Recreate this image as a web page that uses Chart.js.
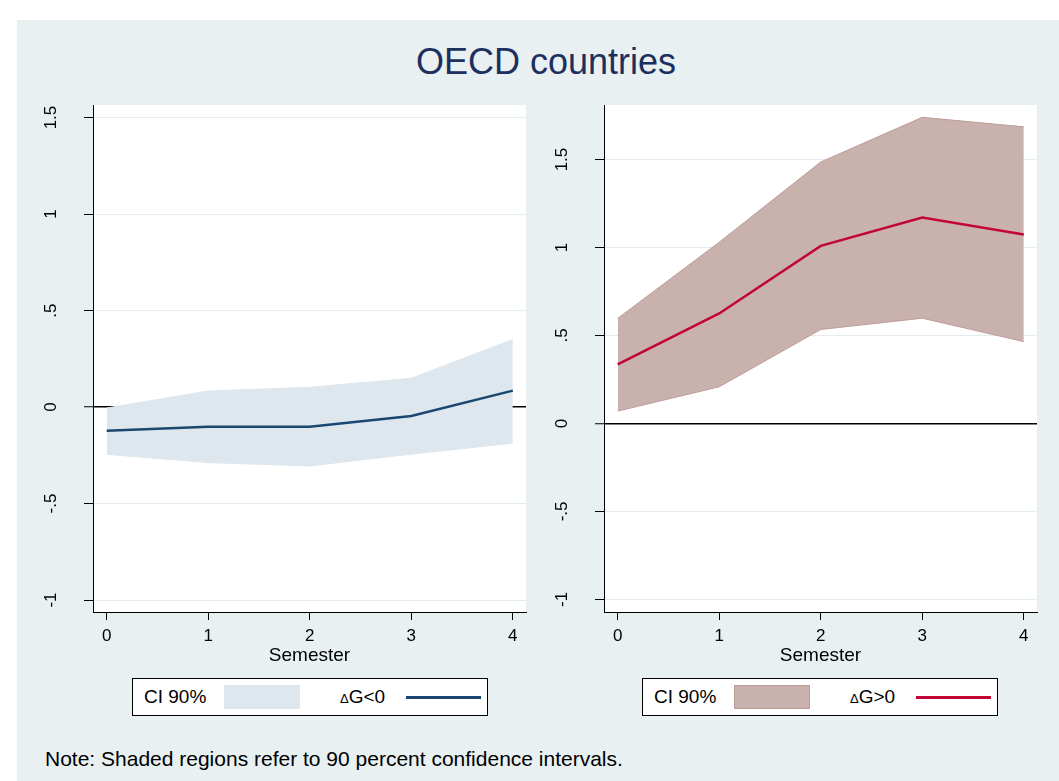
<!DOCTYPE html>
<html>
<head>
<meta charset="utf-8">
<title>OECD countries</title>
<script src="https://cdn.jsdelivr.net/npm/chart.js@4"></script>
<style>
  body { margin: 0; width: 1059px; height: 781px; background: #fff; position: relative; overflow: hidden;
         font-family: "Liberation Sans", Arial, sans-serif; color: #000; }
  #graph { position: absolute; left: 17px; top: 20px; width: 1042px; height: 761px; background: #e8f0f2; }
  #title { position: absolute; left: 0; top: 44px; width: 1092px; text-align: center; font-size: 36px;
           line-height: 36px; color: #1c2f5e; }
  canvas { position: absolute; top: 20px; }
  #leftPanel { left: 17px; }
  #rightPanel { left: 527px; }
  .legend { position: absolute; top: 678px; width: 356px; height: 38px; box-sizing: border-box;
            border: 1px solid #000; background: #fff; font-size: 19px; }
  .legend span { position: absolute; top: 7px; line-height: 22px; white-space: nowrap; }
  .legend .swatch { position: absolute; left: 91px; top: 6px; width: 76px; height: 24px; box-sizing: border-box; }
  .legend .key { position: absolute; left: 273px; top: 17px; width: 75px; height: 2.5px; }
  .delta { font-size: 13px; }
  #note { position: absolute; left: 45px; top: 748px; font-size: 21px; line-height: 21px; white-space: nowrap; }
</style>
</head>
<body>
<div id="graph"></div>
<div id="title">OECD countries</div>
<canvas id="leftPanel" width="523" height="650"></canvas>
<canvas id="rightPanel" width="532" height="650"></canvas>

<div class="legend" style="left:132px">
  <span style="left:11px">CI 90%</span>
  <div class="swatch" style="background:#dde7ed"></div>
  <span style="left:207px"><span class="delta" style="position:static">&Delta;</span>G&lt;0</span>
  <div class="key" style="background:#1a476f"></div>
</div>
<div class="legend" style="left:642px">
  <span style="left:11px">CI 90%</span>
  <div class="swatch" style="background:#c9b2ae; border:1px solid #bd9c97"></div>
  <span style="left:207px"><span class="delta" style="position:static">&Delta;</span>G&gt;0</span>
  <div class="key" style="background:#c10534"></div>
</div>

<div id="note">Note: Shaded regions refer to 90 percent confidence intervals.</div>

<script>
const FONT = '"Liberation Sans", Arial, sans-serif';

// horizon in semesters and axis ticks
const semesters = [0, 1, 2, 3, 4];
const xTickValues = [0, 1, 2, 3, 4];
const yTickValues = [-1, -0.5, 0, 0.5, 1, 1.5];

// response to a fall in government spending (dG<0)
const negMean  = [-0.123, -0.102, -0.102, -0.046, 0.085];
const negLower = [-0.245, -0.288, -0.305, -0.244, -0.187];
const negUpper = [-0.005, 0.083, 0.102, 0.149, 0.35];

// response to a rise in government spending (dG>0)
const posMean  = [0.335, 0.625, 1.009, 1.17, 1.074];
const posLower = [0.07, 0.208, 0.534, 0.598, 0.465];
const posUpper = [0.597, 1.03, 1.486, 1.74, 1.686];

function pts(values) {
  return semesters.map((s, i) => ({ x: s, y: values[i] }));
}

// Stata style labels: ".5", "-.5"
function fmtTick(v) {
  return String(v).replace("0.", ".");
}

// white plot region behind the data
const plotBg = {
  id: "plotBg",
  beforeDraw(chart) {
    const { ctx, chartArea: a } = chart;
    ctx.save();
    ctx.fillStyle = "#fff";
    ctx.fillRect(a.left, a.top, a.right - a.left, a.bottom - a.top);
    ctx.restore();
  }
};

// vertical y tick labels
const yLabels = {
  id: "yLabels",
  afterDraw(chart) {
    const { ctx, chartArea, scales } = chart;
    const y = scales.y;
    ctx.save();
    ctx.font = "17px " + FONT;
    ctx.fillStyle = "#000";
    ctx.textAlign = "center";
    ctx.textBaseline = "middle";
    y.ticks.forEach(t => {
      ctx.save();
      ctx.translate(chartArea.left - 42, y.getPixelForValue(t.value));
      ctx.rotate(-Math.PI / 2);
      ctx.fillText(fmtTick(t.value), 0, 0);
      ctx.restore();
    });
    ctx.restore();
  }
};

function makePanel(id, mean, lower, upper, lineColor, bandColor, bandEdge, yMin, yMax, yWidth, padRight) {
  return new Chart(document.getElementById(id), {
    type: "line",
    data: {
      datasets: [
        { data: pts(mean), borderColor: lineColor, borderWidth: 2.5, pointRadius: 0, fill: false, order: 1 },
        { data: pts(lower), borderColor: bandEdge, borderWidth: 1, pointRadius: 0, fill: false, order: 2 },
        { data: pts(upper), borderColor: bandEdge, borderWidth: 1, pointRadius: 0, fill: "-1",
          backgroundColor: bandColor, order: 3 }
      ]
    },
    options: {
      responsive: false,
      animation: false,
      layout: { padding: { left: 0, top: 85, right: padRight, bottom: 0 } },
      plugins: { legend: { display: false }, tooltip: { enabled: false } },
      elements: { line: { tension: 0 } },
      scales: {
        x: {
          type: "linear",
          min: -0.135,
          max: 4.13,
          afterBuildTicks: s => { s.ticks = xTickValues.map(v => ({ value: v })); },
          afterFit: s => { s.height = 58; },
          grid: { drawOnChartArea: false, drawTicks: true, tickLength: 8, tickColor: "#000", tickWidth: 1 },
          border: { color: "#000", width: 1 },
          ticks: { color: "#000", font: { size: 17, family: FONT }, padding: 6, maxRotation: 0 },
          title: { display: true, text: "Semester", color: "#000", font: { size: 19, family: FONT },
                   padding: { top: 0, bottom: 3 } }
        },
        y: {
          type: "linear",
          min: yMin,
          max: yMax,
          afterBuildTicks: s => { s.ticks = yTickValues.map(v => ({ value: v })); },
          afterFit: s => { s.width = yWidth; },
          grid: {
            color: c => (c.tick && c.tick.value === 0 ? "#000" : "#e4ecef"),
            lineWidth: c => (c.tick && c.tick.value === 0 ? 1.5 : 1),
            drawTicks: true, tickLength: 9, tickColor: "#000", tickWidth: 1
          },
          border: { color: "#000", width: 1 },
          ticks: { display: false }
        }
      }
    },
    plugins: [plotBg, yLabels]
  });
}

makePanel("leftPanel", negMean, negLower, negUpper, "#1a476f", "#dde7ed", "#dde7ed", -1.062, 1.565, 76, 14);
makePanel("rightPanel", posMean, posLower, posUpper, "#c10534", "#c9b2ae", "#bd9c97", -1.072, 1.81, 77, 22);
</script>
</body>
</html>
